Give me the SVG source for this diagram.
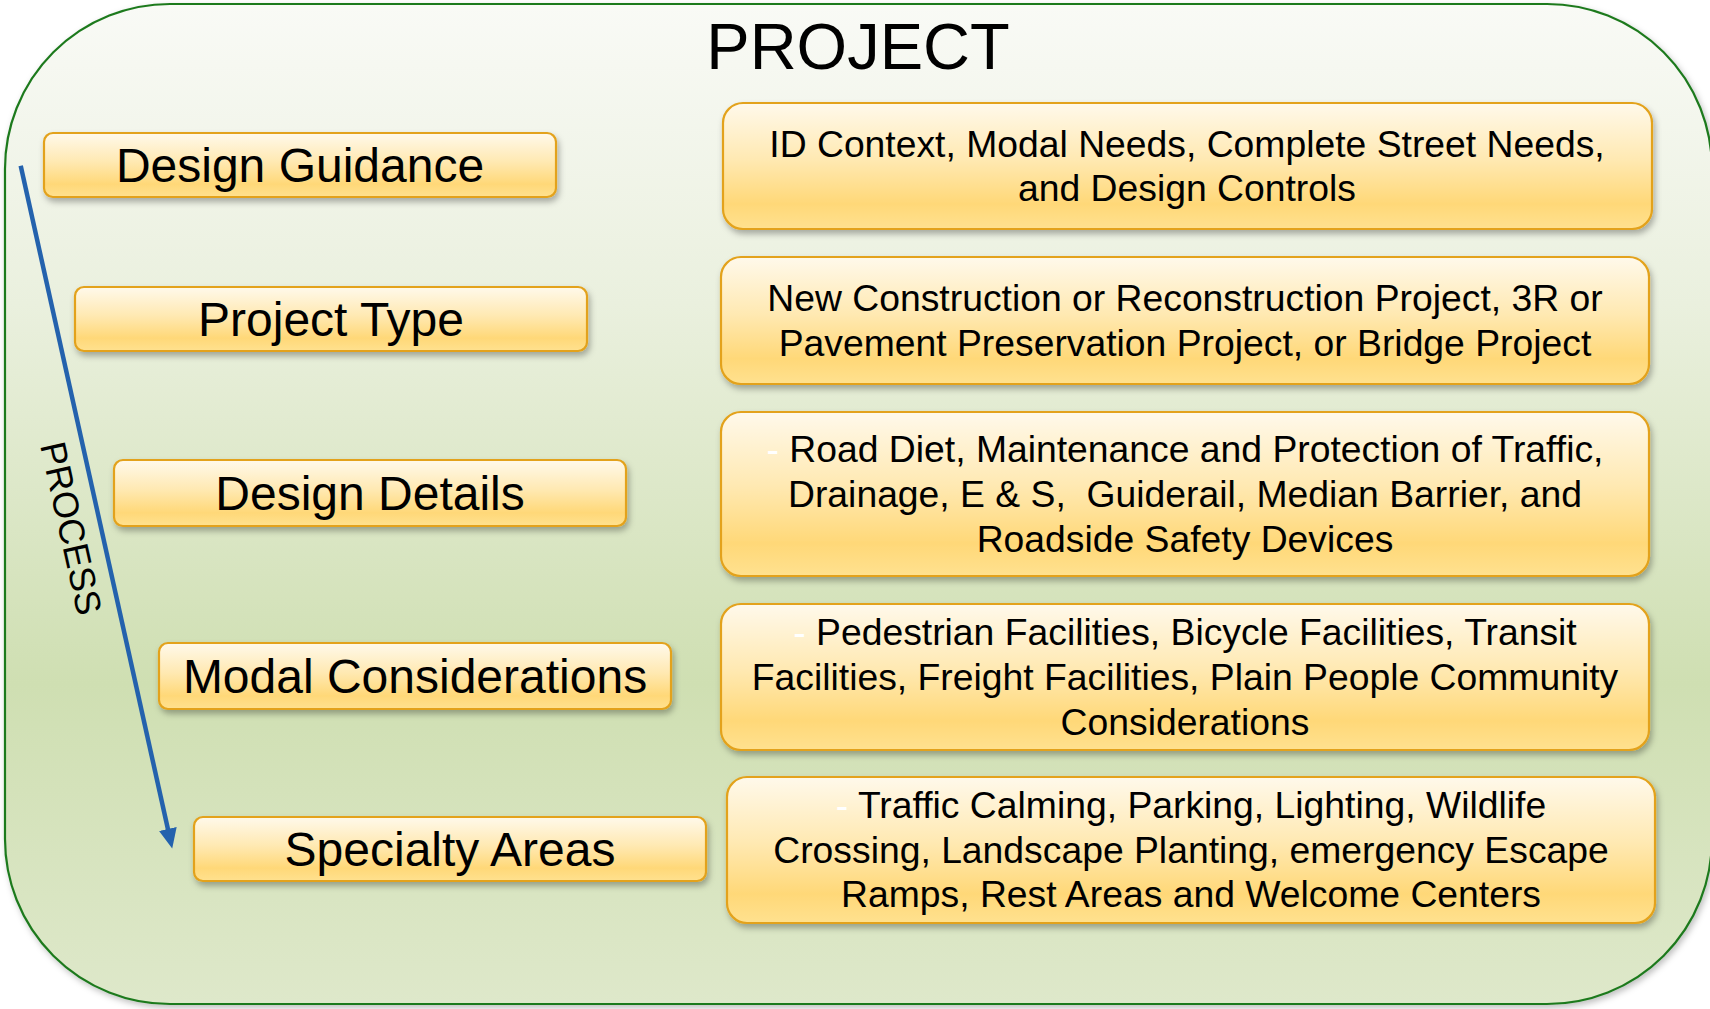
<svg xmlns="http://www.w3.org/2000/svg" width="1710" height="1009" viewBox="0 0 1710 1009">
  <defs>
    <linearGradient id="bgGrad" x1="0" y1="0" x2="0" y2="1">
      <stop offset="0" stop-color="#f9faf6"/>
      <stop offset="0.3" stop-color="#eaf0de"/>
      <stop offset="0.68" stop-color="#cfdfb2"/>
      <stop offset="1" stop-color="#dee8ca"/>
    </linearGradient>
    <linearGradient id="boxGrad" x1="0" y1="0" x2="0" y2="1">
      <stop offset="0" stop-color="#fff9eb"/>
      <stop offset="0.45" stop-color="#ffe9b2"/>
      <stop offset="0.8" stop-color="#ffd878"/>
      <stop offset="1" stop-color="#ffe18f"/>
    </linearGradient>
    <filter id="shadow" x="-5%" y="-20%" width="110%" height="150%">
      <feDropShadow dx="2" dy="4" stdDeviation="3" flood-color="#000" flood-opacity="0.3"/>
    </filter>
    <filter id="frameShadow" x="-5%" y="-5%" width="110%" height="110%">
      <feDropShadow dx="2" dy="3" stdDeviation="3" flood-color="#000" flood-opacity="0.25"/>
    </filter>
    <marker id="ah" markerUnits="userSpaceOnUse" markerWidth="22" markerHeight="20" refX="7" refY="9" orient="auto">
      <path d="M0,0 L20,9 L0,18 z" fill="#2462ad"/>
    </marker>
    <style>
      .box { fill: url(#boxGrad); stroke: #e3a21a; stroke-width: 2.2; filter: url(#shadow); }
      .lbl { font-family: "Liberation Sans", Arial, sans-serif; font-size: 48px; fill: #000; text-anchor: middle; }
      .desc { font-family: "Liberation Sans", Arial, sans-serif; font-size: 37.3px; fill: #000; text-anchor: middle; }
      .faint { fill: #ffffff; }
      .title { font-family: "Liberation Sans", Arial, sans-serif; font-size: 65px; fill: #000; text-anchor: middle; }
      .proc { font-family: "Liberation Sans", Arial, sans-serif; font-size: 36px; fill: #000; text-anchor: middle; }
    </style>
  </defs>

  <g id="frame">
    <rect x="5" y="4" width="1707" height="1000" rx="165" ry="165" fill="url(#bgGrad)" stroke="#1f7a1f" stroke-width="2.2" filter="url(#frameShadow)"/>
    <text class="title" x="858" y="69">PROJECT</text>
  </g>

  <g id="connectors">
    <line x1="20.7" y1="165.8" x2="169.4" y2="835.8" stroke="#2462ad" stroke-width="4.5" marker-end="url(#ah)"/>
    <text class="proc" transform="translate(59,531) rotate(77.5)" x="0" y="0">PROCESS</text>
  </g>

  <g id="design-guidance">
    <rect class="box" x="44" y="133" width="512" height="64" rx="9"/>
    <text class="lbl" x="300" y="182">Design Guidance</text>
  </g>
  <g id="project-type">
    <rect class="box" x="75" y="287" width="512" height="64" rx="9"/>
    <text class="lbl" x="331" y="336">Project Type</text>
  </g>
  <g id="design-details">
    <rect class="box" x="114" y="460" width="512" height="66" rx="9"/>
    <text class="lbl" x="370" y="510">Design Details</text>
  </g>
  <g id="modal-considerations">
    <rect class="box" x="159" y="643" width="512" height="66" rx="9"/>
    <text class="lbl" x="415" y="693">Modal Considerations</text>
  </g>
  <g id="specialty-areas">
    <rect class="box" x="194" y="817" width="512" height="64" rx="9"/>
    <text class="lbl" x="450" y="866">Specialty Areas</text>
  </g>

  <g id="guidance-detail">
    <rect class="box" x="723" y="103" width="929" height="126" rx="20"/>
    <text class="desc" x="1187" y="157">ID Context, Modal Needs, Complete Street Needs,</text>
    <text class="desc" x="1187" y="201">and Design Controls</text>
  </g>
  <g id="type-detail">
    <rect class="box" x="721" y="257" width="928" height="127" rx="20"/>
    <text class="desc" x="1185" y="311">New Construction or Reconstruction Project, 3R or</text>
    <text class="desc" x="1185" y="356">Pavement Preservation Project, or Bridge Project</text>
  </g>
  <g id="details-detail">
    <rect class="box" x="721" y="412" width="928" height="164" rx="20"/>
    <text class="desc" x="1185" y="462"><tspan class="faint">- </tspan>Road Diet, Maintenance and Protection of Traffic,</text>
    <text class="desc" x="1185" y="507" xml:space="preserve">Drainage, E &amp; S,  Guiderail, Median Barrier, and</text>
    <text class="desc" x="1185" y="552">Roadside Safety Devices</text>
  </g>
  <g id="modal-detail">
    <rect class="box" x="721" y="604" width="928" height="146" rx="20"/>
    <text class="desc" x="1185" y="645"><tspan class="faint">- </tspan>Pedestrian Facilities, Bicycle Facilities, Transit</text>
    <text class="desc" x="1185" y="690">Facilities, Freight Facilities, Plain People Community</text>
    <text class="desc" x="1185" y="735">Considerations</text>
  </g>
  <g id="specialty-detail">
    <rect class="box" x="727" y="777" width="928" height="146" rx="20"/>
    <text class="desc" x="1191" y="818"><tspan class="faint">- </tspan>Traffic Calming, Parking, Lighting, Wildlife</text>
    <text class="desc" x="1191" y="863">Crossing, Landscape Planting, emergency Escape</text>
    <text class="desc" x="1191" y="907">Ramps, Rest Areas and Welcome Centers</text>
  </g>
</svg>
